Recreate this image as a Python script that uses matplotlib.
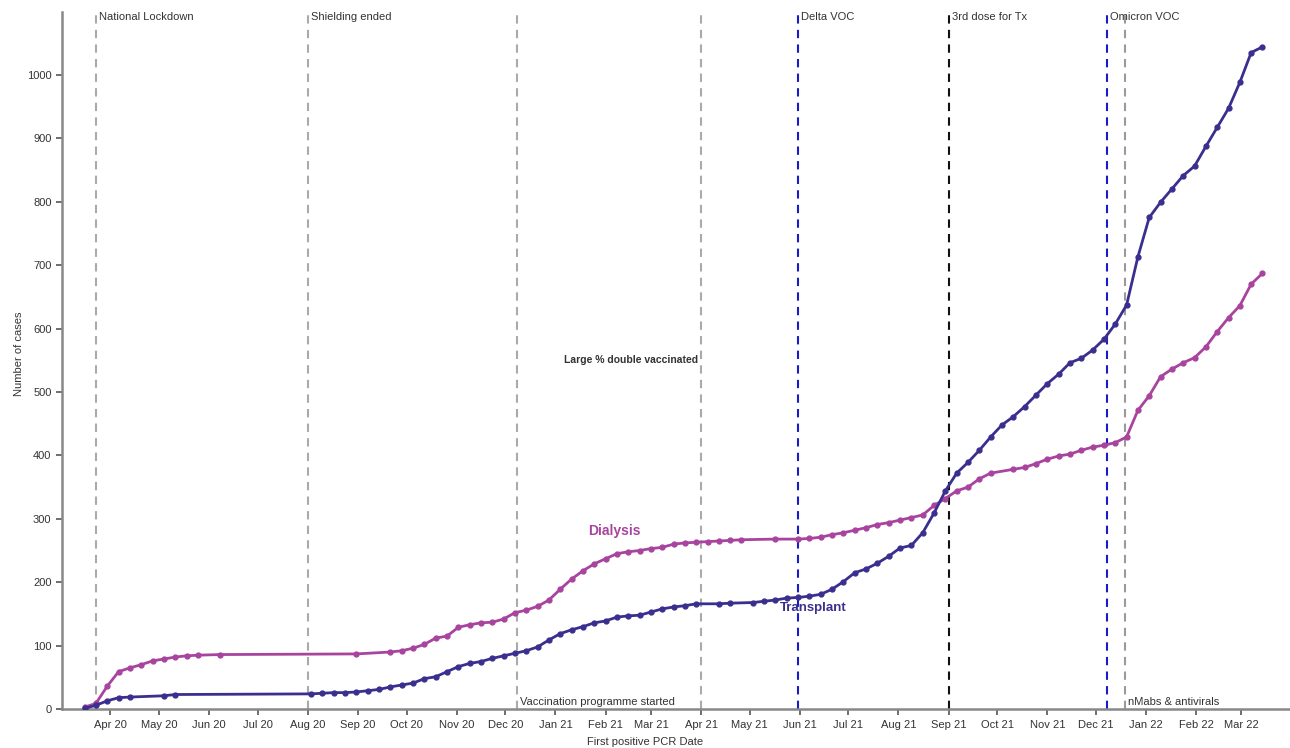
import numpy as np
import pandas as pd
import matplotlib
matplotlib.use("Agg")
import matplotlib.pyplot as plt
import matplotlib.dates as mdates

plt.rcParams['font.family'] = ['Liberation Sans', 'DejaVu Sans']

# weekly cumulative counts (None = no point plotted that week)
week_start = "2020-03-16"
n_weeks = 105

dialysis = [3, 9, 36, 59, 65, 70, 76, 79, 82, 84,
            85, None, 86, None, None, None, None, None, None, None,
            None, None, None, None, 87, None, None, 90, 92, 96,
            102, 112, 115, 129, 133, 136, 137, 142, 152, 156,
            162, 172, 189, 205, 218, 229, 237, 245, 248, 250,
            253, 255, 260, 262, 263, 264, 265, 266, 267, None,
            None, 268, None, 268, 269, 271, 275, 278, 282, 286,
            291, 294, 298, 302, 306, 321, 332, 344, 350, 363,
            372, None, 378, 381, 387, 394, 399, 402, 408, 413,
            416, 420, 429, 471, 494, 524, 536, 546, 554, 571,
            595, 617, 636, 670, 687]

transplant = [1, 6, 13, 18, 19, None, None, 21, 23, None,
              None, None, None, None, None, None, None, None, None, None,
              24, 25, 26, 26, 27, 29, 31, 35, 38, 41,
              48, 51, 59, 67, 72, 75, 80, 84, 88, 92,
              98, 109, 119, 125, 130, 136, 139, 145, 147, 148,
              153, 158, 161, 163, 166, None, 166, 167, None, 168,
              170, 172, 175, 176, 178, 181, 189, 201, 215, 221,
              230, 241, 254, 258, 278, 309, 344, 372, 389, 408,
              429, 448, 461, 477, 495, 513, 528, 546, 553, 566,
              583, 607, 637, 713, 775, 799, 820, 841, 856, 887,
              917, 947, 988, 1035, 1044]

# events: date, label, line colour, where the label sits
event_dates = ["2020-03-23", "2020-08-01", "2020-12-08", "2021-04-01",
               "2021-05-31", "2021-09-01", "2021-12-08", "2021-12-19"]
event_labels = ["National Lockdown", "Shielding ended", "Vaccination programme started",
                "Large % double vaccinated", "Delta VOC", "3rd dose for Tx",
                "Omicron VOC", "nMabs & antivirals"]
event_colors = ["#aaaaaa", "#aaaaaa", "#aaaaaa", "#aaaaaa",
                "#1a1ac8", "#111111", "#1a1ac8", "#9a9a9a"]
event_pos = ["top", "top", "bottom", "middle", "top", "top", "top", "bottom"]

dialysis_color = "#a8449e"
transplant_color = "#3a2f8f"

weeks = pd.date_range(week_start, periods=n_weeks, freq="7D")
dial = pd.Series(dialysis, index=weeks, dtype=float).dropna()
tx = pd.Series(transplant, index=weeks, dtype=float).dropna()

fig = plt.figure(figsize=(12.9, 7.48), dpi=100)
ax = fig.add_axes([0.048, 0.052, 0.952, 0.932])

for d, lab, c, pos in zip(event_dates, event_labels, event_colors, event_pos):
    dt = pd.Timestamp(d)
    ax.axvline(dt, color=c, lw=1.5, ls=(0, (4, 3)), zorder=1)
    if pos == "top":
        ax.text(dt + pd.Timedelta(days=2), 1091, lab, fontsize=8, color="#333333",
                va="center", ha="left")
    elif pos == "bottom":
        ax.text(dt + pd.Timedelta(days=2), 4, lab, fontsize=8, color="#333333",
                va="bottom", ha="left")
    else:
        ax.text(dt - pd.Timedelta(days=2), 550, lab, fontsize=7.5, color="#333333",
                va="center", ha="right", fontweight="bold")

ax.plot(dial.index, dial.values, color=dialysis_color, lw=2.0, marker="o",
        ms=3.5, zorder=3)
ax.plot(tx.index, tx.values, color=transplant_color, lw=2.0, marker="o",
        ms=3.5, zorder=4)

ax.text(pd.Timestamp("2021-01-21"), 280, "Dialysis", color=dialysis_color,
        fontsize=10, fontweight="bold", ha="left", va="center")
ax.text(pd.Timestamp("2021-05-20"), 160, "Transplant", color=transplant_color,
        fontsize=9.5, fontweight="bold", ha="left", va="center")

ax.set_xlim(pd.Timestamp("2020-03-02"), pd.Timestamp("2022-03-31"))
ax.set_ylim(0, 1099)
ax.set_yticks(np.arange(0, 1001, 100))
month_ticks = pd.date_range("2020-04-01", "2022-03-01", freq="MS")
ax.set_xticks(month_ticks)
ax.xaxis.set_major_formatter(mdates.DateFormatter("%b %y"))

ax.spines["top"].set_visible(False)
ax.spines["right"].set_visible(False)
for s in ["left", "bottom"]:
    ax.spines[s].set_color("#888888")
    ax.spines[s].set_linewidth(1.8)
ax.tick_params(axis="both", colors="#555555", labelcolor="#333333", labelsize=8,
               length=4, width=1.2)

ax.set_xlabel("First positive PCR Date", fontsize=8, color="#333333")
ax.set_ylabel("Number of cases", fontsize=8, color="#333333")
ax.xaxis.set_label_coords(0.475, -0.04)
ax.yaxis.set_label_coords(-0.031, 0.51)

fig.savefig("out.png", dpi=100)
